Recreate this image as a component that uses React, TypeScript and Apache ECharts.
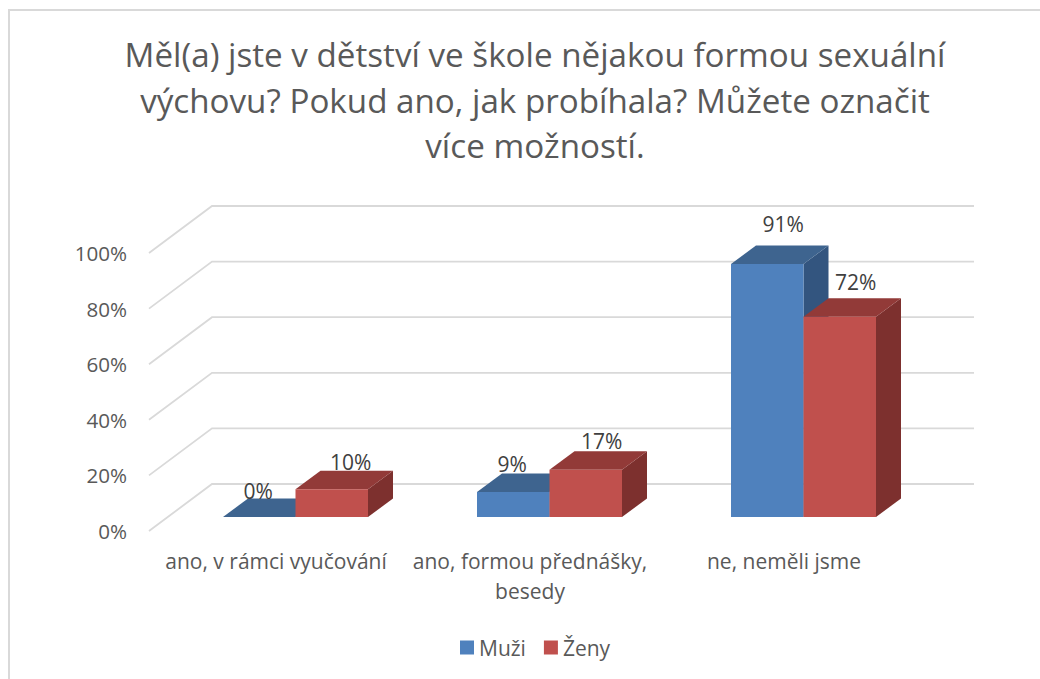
import React, { useEffect, useRef } from "react";
import * as echarts from "echarts";

const titleText =
  "Měl(a) jste v dětství ve škole nějakou formou sexuální\nvýchovu? Pokud ano, jak probíhala? Můžete označit\nvíce možností.";
const categories = ["ano, v rámci vyučování", "ano, formou přednášky,\nbesedy", "ne, neměli jsme"];
const seriesNames = ["Muži", "Ženy"];
const muzi = [0, 9, 91];
const zeny = [10, 17, 72];
const tickValues = [0, 20, 40, 60, 80, 100];

const FONT = "'Open Sans'";
const GRID = { left: 149, top: 253, width: 762, height: 278 };
const WALL = { dx: 63, dy: -47 };
const PLANE = { dx: 19.5, dy: -14 };
const BAR = { width: 72.5, dx: 25, dy: -18.5 };

const palette = [
  { front: "#4F81BD", top: "#3E648F", side: "#33557F" },
  { front: "#C0504D", top: "#923A38", side: "#7D302E" },
];
const labelNudges = [
  [[-1, -26], [-1, -28], [16, -40]],
  [[19, -27], [16, -29], [16, -35]],
];

function poly(points: number[][], fill: string) {
  return { type: "polygon", shape: { points }, style: { fill, stroke: "none" } };
}

function barRenderer(seriesIndex: number) {
  return (params: any, api: any) => {
    const cat = api.value(0);
    const val = api.value(1);
    const [cx, yTop0] = api.coord([cat, val]);
    const [, yBase0] = api.coord([cat, 0]);
    const mid = cx + PLANE.dx;
    const yTop = yTop0 + PLANE.dy;
    const yBase = yBase0 + PLANE.dy;
    const x0 = seriesIndex === 0 ? mid - BAR.width : mid;
    const x1 = x0 + BAR.width;
    const c = palette[seriesIndex];
    const nudge = labelNudges[seriesIndex][params.dataIndex];
    return {
      type: "group",
      children: [
        poly([[x1, yTop], [x1 + BAR.dx, yTop + BAR.dy], [x1 + BAR.dx, yBase + BAR.dy], [x1, yBase]], c.side),
        poly([[x0, yTop], [x0 + BAR.dx, yTop + BAR.dy], [x1 + BAR.dx, yTop + BAR.dy], [x1, yTop]], c.top),
        { type: "rect", shape: { x: x0, y: yTop, width: BAR.width, height: yBase - yTop }, style: { fill: c.front } },
        {
          type: "text",
          style: {
            x: (x0 + x1) / 2 + nudge[0],
            y: yTop + nudge[1],
            text: `${val}%`,
            fill: "#404040",
            font: `21px ${FONT}`,
            align: "center",
            verticalAlign: "middle",
          },
        },
      ],
    };
  };
}

function wallRenderer(_params: any, api: any) {
  const [cx, y] = api.coord([0, api.value(1)]);
  const left = cx - api.size([1, 0])[0] / 2;
  const backX = left + WALL.dx;
  const backY = y + WALL.dy;
  return {
    type: "polyline",
    shape: { points: [[left, y], [backX, backY], [backX + GRID.width, backY]] },
    style: { fill: "none", stroke: "#D9D9D9", lineWidth: 1.8 },
  };
}

export default function App() {
  const ref = useRef<HTMLDivElement>(null);
  useEffect(() => {
    const chart = echarts.init(ref.current!, undefined, { renderer: "svg" });
    const makeSeries = (i: number, values: number[]) => ({
      name: seriesNames[i],
      type: "custom",
      coordinateSystem: "cartesian2d",
      renderItem: barRenderer(i),
      encode: { x: 0, y: 1 },
      itemStyle: { color: palette[i].front },
      data: values.map((v, k) => [k, v]),
      z: 3 + i,
      silent: true,
    });
    chart.setOption({
      animation: false,
      backgroundColor: "#FFFFFF",
      textStyle: { fontFamily: FONT },
      title: {
        text: titleText,
        left: 530,
        top: 27,
        textAlign: "center",
        textStyle: { fontFamily: FONT, fontWeight: "normal", fontSize: 33.2, lineHeight: 45.5, color: "#595959" },
      },
      legend: {
        data: seriesNames,
        left: 455,
        top: 632,
        icon: "rect",
        itemWidth: 14,
        itemHeight: 14,
        itemGap: 18,
        selectedMode: false,
        textStyle: { fontFamily: FONT, fontSize: 21, color: "#595959" },
      },
      grid: { ...GRID },
      xAxis: {
        type: "category",
        data: categories,
        axisLine: { show: false },
        axisTick: { show: false },
        splitLine: { show: false },
        axisLabel: { fontFamily: FONT, fontSize: 21, color: "#595959", lineHeight: 30, margin: 15, interval: 0 },
      },
      yAxis: {
        type: "value",
        min: 0,
        max: 100,
        interval: 20,
        axisLine: { show: false },
        axisTick: { show: false },
        splitLine: { show: false },
        axisLabel: { fontFamily: FONT, fontSize: 20.6, color: "#595959", margin: 22, formatter: "{value}%" },
      },
      graphic: [
        { type: "line", shape: { x1: 9, y1: 10, x2: 1040, y2: 10 }, style: { stroke: "#D9D9D9", lineWidth: 2 } },
        { type: "line", shape: { x1: 9, y1: 9, x2: 9, y2: 679 }, style: { stroke: "#D9D9D9", lineWidth: 2 } },
      ],
      series: [
        {
          type: "custom",
          coordinateSystem: "cartesian2d",
          renderItem: wallRenderer,
          encode: { x: 0, y: 1 },
          data: tickValues.map((v) => [0, v]),
          z: 1,
          silent: true,
        },
        makeSeries(0, muzi),
        makeSeries(1, zeny),
      ],
    });
    return () => chart.dispose();
  }, []);
  return <div ref={ref} style={{ position: "fixed", left: 0, top: 0, width: 1040, height: 679 }} />;
}
